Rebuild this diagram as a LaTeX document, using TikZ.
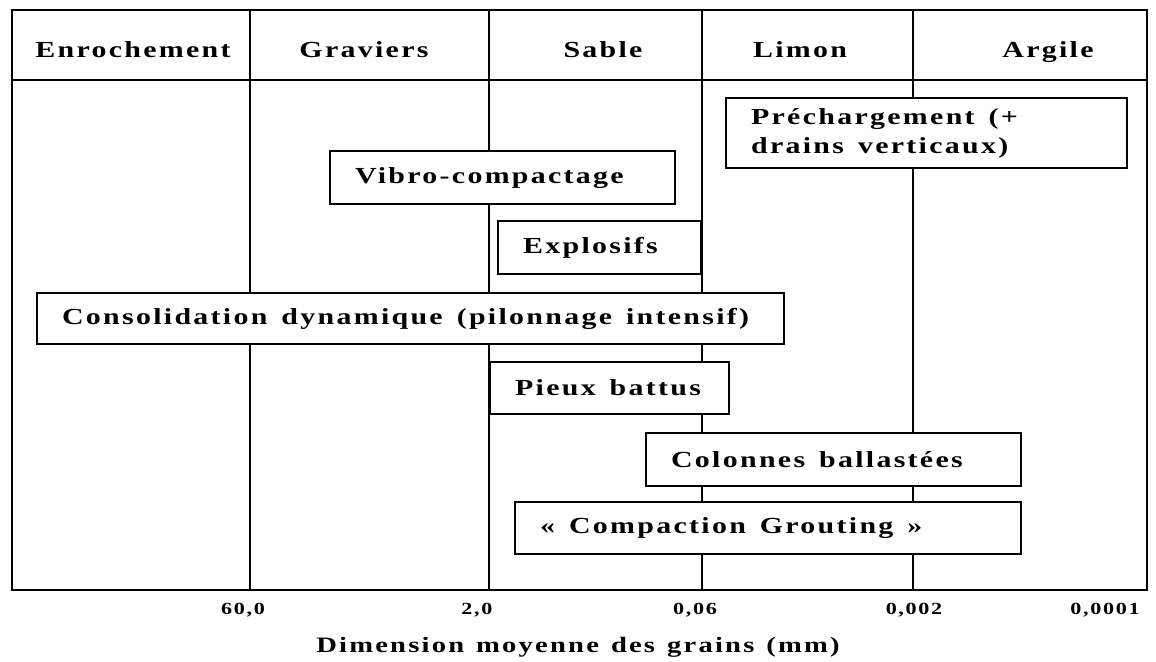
\documentclass[tikz,border=0pt]{standalone}
\usepackage{fontspec}
\setmainfont{Liberation Serif}[FakeStretch=1.3, LetterSpace=10]
\usetikzlibrary{positioning}

\tikzset{
  cadre/.style={line width=2.5pt},
  titre/.style={anchor=base, font=\bfseries\fontsize{23}{28}\selectfont,
    execute at begin node={\spaceskip=12pt\relax}},
  methode/.style={draw, line width=2.2pt, fill=white, anchor=north west, align=left,
    inner xsep=25pt, inner ysep=0pt, font=\bfseries\fontsize{23}{29}\selectfont,
    execute at begin node={\spaceskip=14pt\relax}},
  graduation/.style={anchor=base, font=\bfseries\fontsize{17}{20}\selectfont},
}

\begin{document}
\begin{tikzpicture}[x=1pt, y=-1pt]
    \useasboundingbox (0,0) rectangle (1156,661);

    % tableau
    \draw[cadre] (12,10) rectangle (1147,590);
    \draw[cadre] (12,80) -- (1147,80);
    \foreach \x in {250,489,702,913}
        \draw[cadre] (\x,10) -- (\x,590);

    % classes de sol
    \node[titre] (enr) at (133,58) {Enrochement};
    \node[titre] (grv) at (364,58) {Graviers};
    \node[titre] (sab) at (603,58) {Sable};
    \node[titre] (lim) at (800,58) {Limon};
    \node[titre] (arg) at (1048,58) {Argile};

    % techniques
    \node[methode, text width=351pt, minimum height=70pt] (pre) at (725,97)
        {Préchargement (+\\drains verticaux)};
    \node[methode, text width=295pt, minimum height=53pt] (vib) at (329,150) {Vibro-compactage};
    \node[methode, text width=153pt, minimum height=53pt] (exp) at (497,220) {Explosifs};
    \node[methode, text width=697pt, minimum height=51pt] (con) at (36,292)
        {Consolidation dynamique (pilonnage intensif)};
    \node[methode, text width=189pt, minimum height=52pt] (pie) at (489,361) {Pieux battus};
    \node[methode, text width=325pt, minimum height=53pt] (col) at (645,432) {Colonnes ballastées};
    \node[methode, text width=456pt, minimum height=52pt] (cgr) at (514,501)
        {« Compaction Grouting »};

    % axe
    \node[graduation] (g1) at (243,614) {60,0};
    \node[graduation] (g2) at (477,614) {2,0};
    \node[graduation] (g3) at (695,614) {0,06};
    \node[graduation] (g4) at (914,614) {0,002};
    \node[graduation] (g5) at (1105,614) {0,0001};
    \node[titre, font=\bfseries\fontsize{22}{26}\selectfont] (axe) at (578,652)
        {Dimension moyenne des grains (mm)};
\end{tikzpicture}
\end{document}
